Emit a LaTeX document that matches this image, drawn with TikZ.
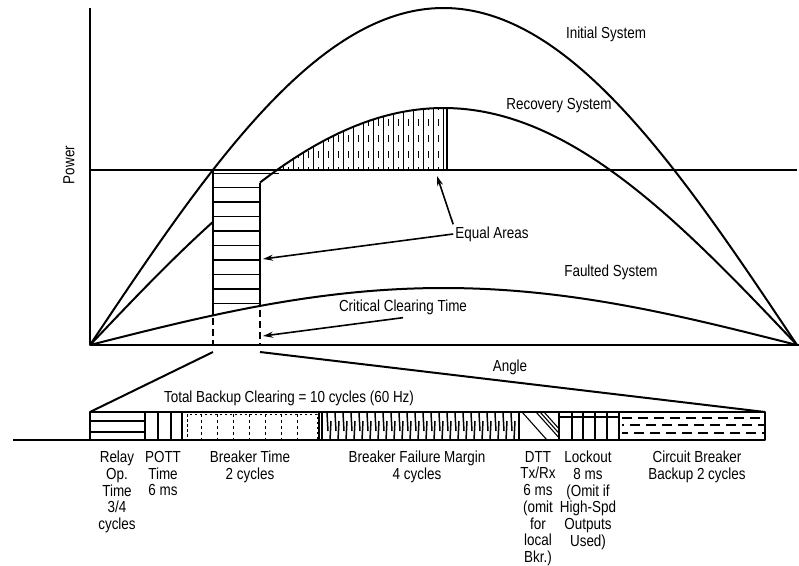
\documentclass[tikz,border=0pt]{standalone}
\usepackage{fontspec}
\setsansfont{Liberation Sans}[FakeStretch=0.84]
\usetikzlibrary{arrows.meta}

\begin{document}
\begin{tikzpicture}[x = 1pt, y = -1pt, font=\sffamily\fontsize{16}{16.7}\selectfont, line join = round]
	\tikzstyle{axisStyle}=[line width = 2pt]
	\tikzstyle{curveStyle}=[line width = 2pt]
	\tikzstyle{hatchStyle}=[line width = 1.1pt]
	\tikzstyle{textStyle}=[inner sep = 0pt]
	\tikzstyle{barTextStyle}=[inner sep = 0pt, anchor = north, align = center]
	\tikzstyle{pointerStyle}=[line width = 1.6pt, -{Stealth[length = 10pt, width = 6pt]}]
	\useasboundingbox (0,0) rectangle (799,565);
	\coordinate (origin) at (90,345);
	\coordinate (yTop) at (90,8);
	\coordinate (xEnd) at (799,345);
	\coordinate (pmLeft) at (90,170);
	\coordinate (pmRight) at (797,170);
	\coordinate (accLeft) at (213,170);
	\coordinate (accRight) at (260,183);
	\coordinate (decTop) at (447,108);
	\coordinate (decBottom) at (447,170);
	\coordinate (eqTipA) at (263,259);
	\coordinate (eqTipB) at (437,176);
	\coordinate (cctTip) at (263,336);
	\coordinate (zoomA) at (213,352);
	\coordinate (zoomB) at (260,352);
	\coordinate (barLeft) at (90,412);
	\coordinate (barRight) at (765,412);
	\coordinate (ground) at (13,440);
	\draw[axisStyle] (yTop) -- (origin) -- (xEnd);
	\draw[axisStyle] (pmLeft) -- (pmRight);
	\begin{scope}
		\clip plot[domain = 277:447, samples = 30] (\x, {345-237*sin(0.2546*(\x-90))}) -- (decBottom) -- cycle;
		\foreach \x in {283,293,...,446} {
			\draw[hatchStyle, line width = 1pt] (\x,170) -- (\x,100);
			\draw[hatchStyle, line width = 0.9pt, dash pattern = on 7pt off 9pt, dash phase = -12pt] (\x+5,170) -- (\x+5,100);
		}
	\end{scope}
	\foreach \y in {187.5,202,...,304} {
		\draw[hatchStyle, line width = 1.4pt] (213,\y) -- (260,\y);
	}
	\draw[hatchStyle] (213,173.5) -- (279,173.5);
	\draw[curveStyle] plot[domain = 90:797, samples = 90, smooth] (\x, {345-337*sin(0.2546*(\x-90))});
	\draw[curveStyle] plot[domain = 90:213, samples = 20, smooth] (\x, {345-237*sin(0.2546*(\x-90))});
	\draw[curveStyle] plot[domain = 260:797, samples = 70, smooth] (\x, {345-237*sin(0.2546*(\x-90))});
	\draw[curveStyle] plot[domain = 90:797, samples = 70, smooth] (\x, {345-57*sin(0.2546*(\x-90))});
	\draw[curveStyle, line width = 2.4pt] (decTop) -- (decBottom);
	\draw[curveStyle] (accLeft) -- (213,315);
	\draw[curveStyle] (accRight) -- (260,306);
	\draw[curveStyle, dash pattern = on 7pt off 4pt] (213,318) -- (213,345);
	\draw[curveStyle, dash pattern = on 7pt off 4pt] (260,310) -- (260,345);
	\draw[curveStyle] (zoomA) -- (barLeft);
	\draw[curveStyle] (zoomB) -- (barRight);
	\node[textStyle] (initial) at (606,34) {Initial System};
	\node[textStyle] (recovery) at (559,106) {Recovery System};
	\node[textStyle] (faulted) at (611,272) {Faulted System};
	\node[textStyle] (equal) at (492,234) {Equal Areas};
	\node[textStyle] (critical) at (403,307) {Critical Clearing Time};
	\node[textStyle] (angle) at (510,367) {Angle};
	\node[textStyle, rotate = 90] (power) at (69,165) {Power};
	\draw[pointerStyle] ([xshift = -2pt]equal.west) -- (eqTipA);
	\draw[pointerStyle] ([xshift = -2pt, yshift = 2pt]equal.north west) -- (eqTipB);
	\draw[pointerStyle] ([yshift = -3pt]critical.south) -- (cctTip);
	\node[textStyle] (total) at (289,398) {Total Backup Clearing = 10 cycles (60 Hz)};
	\draw[hatchStyle, line width = 1.6pt] (90,421) -- (145,421) (90,432) -- (145,432);
	\draw[hatchStyle, line width = 1.4pt] (158,412) -- (158,440) (171,412) -- (171,440);
	\draw[hatchStyle, line width = 0.8pt, dash pattern = on 2.5pt off 2.5pt] (187,414) rectangle (317,439);
	\foreach \x in {201,217,...,305} {
		\draw[hatchStyle, line width = 0.8pt, dash pattern = on 3pt off 3pt] (\x,414) -- (\x,439);
	}
	\draw[line width = 2pt] (322,412) -- (322,440);
	\foreach \x in {327,335,...,515} {
		\draw[hatchStyle, line width = 1.5pt] (\x,413) -- (\x+1,431);
		\draw[hatchStyle, line width = 1.5pt] (\x+4,421) -- (\x+3,440);
	}
	\begin{scope}
		\clip (519,412) rectangle (559,440);
		\foreach \d in {0,14,18,22} {
			\draw[hatchStyle] (522+\d,412) -- (547+\d,440);
		}
	\end{scope}
	\draw[hatchStyle] (559,417) -- (619,417);
	\foreach \x in {572,583,595,607} {
		\draw[hatchStyle, line width = 1.3pt] (\x,412) -- (\x,440);
	}
	\foreach \y/\p in {418/0pt,425/8pt,433/4pt} {
		\draw[hatchStyle, line width = 1.4pt, dash pattern = on 10pt off 6pt, dash phase = \p] (622,\y) -- (765,\y);
	}
	\draw[line width = 2.4pt] (ground) -- (90,440);
	\draw[line width = 2.4pt] (90,412) rectangle (765,440);
	\foreach \x in {145,182,319,519,559,619} {
		\draw[line width = 2pt] (\x,412) -- (\x,440);
	}
	\node[barTextStyle] (relay) at (117,451) {Relay\\Op.\\Time\\3/4\\cycles};
	\node[barTextStyle] (pott) at (163,451) {POTT\\Time\\6 ms};
	\node[barTextStyle] (breaker) at (250,451) {Breaker Time\\2 cycles};
	\node[barTextStyle] (margin) at (417,451) {Breaker Failure Margin\\4 cycles};
	\node[barTextStyle] (dtt) at (538,451) {DTT\\Tx/Rx\\6 ms\\(omit\\for\\local\\Bkr.)};
	\node[barTextStyle] (lockout) at (588,451) {Lockout\\8 ms\\(Omit if\\High-Spd\\Outputs\\Used)};
	\node[barTextStyle] (backup) at (697,451) {Circuit Breaker\\Backup 2 cycles};
\end{tikzpicture}
\end{document}
